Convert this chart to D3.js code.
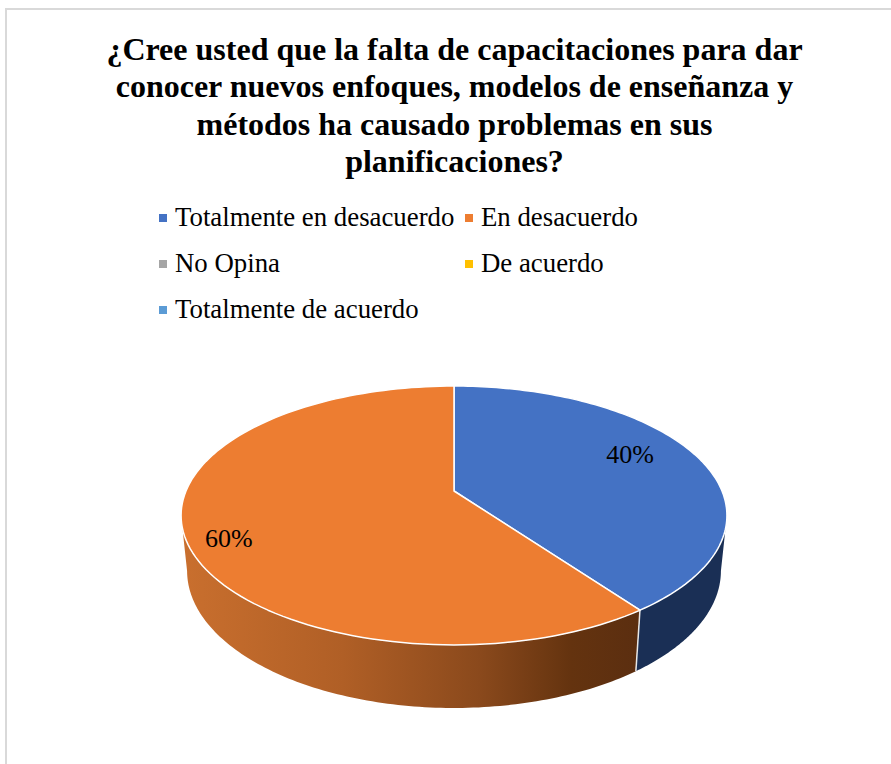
<!DOCTYPE html>
<html><head><meta charset="utf-8">
<script src="https://cdn.jsdelivr.net/npm/d3@7/dist/d3.min.js"></script>
<style>html,body{margin:0;padding:0;background:#fff}svg{display:block}text{font-family:"Liberation Serif","Times New Roman",serif;fill:#000}</style>
</head><body><svg id="c" width="891" height="764"></svg>
<script>
const titleLines = ["¿Cree usted que la falta de capacitaciones para dar","conocer nuevos enfoques, modelos de enseñanza y","métodos ha causado problemas en sus","planificaciones?"];
const categories = ["Totalmente en desacuerdo","En desacuerdo","No Opina","De acuerdo","Totalmente de acuerdo"];
const values = [40,60,0,0,0];
const colors = ["#4472c4","#ed7d31","#a5a5a5","#ffc000","#5b9bd5"];

const svg = d3.select("#c");
// chart frame
svg.append("path").attr("d","M6,764V9H891").attr("fill","none").attr("stroke","#d9d9d9").attr("stroke-width",2);

// title
svg.append("g").selectAll("text").data(titleLines).join("text")
  .attr("x",454.5).attr("y",(d,i)=>60+i*37.4).attr("text-anchor","middle")
  .attr("font-size",32).attr("font-weight","bold").text(d=>d);

// legend
const legendX = d3.scaleOrdinal().domain([0,1]).range([159,465]);
const legendY = d3.scalePoint().domain([0,1,2]).range([218,310]);
const lg = svg.append("g").selectAll("g").data(categories).join("g")
  .attr("transform",(d,i)=>`translate(${legendX(i%2)},${legendY(Math.floor(i/2))})`);
lg.append("rect").attr("x",0).attr("y",-4).attr("width",8).attr("height",8).attr("fill",(d,i)=>colors[i]);
lg.append("text").attr("x",16).attr("y",8).attr("font-size",26.8).text(d=>d);

// 3D pie: d3.pie angles projected through a perspective disc
const pie = d3.pie().sort(null).value(d=>d)(values);
const R=268, cx=454, cy=491, kk=32, p=-0.189;
function topPt(a,r=1){const u=Math.sin(a)*r,v=-Math.cos(a)*r,w=1+p*v;return [cx+R*u/w,(cy+kk*v)/w];}
function bottomPt(a){const [x,y]=topPt(a);return [cx+(x-cx)*0.978,y+61+(y-610)*0.06];}
const line = d3.line();
const arcPts=(f,a0,a1)=>d3.range(0,121).map(i=>f(a0+(a1-a0)*i/120));
const rad=d3.scaleLinear().domain([0,360]).range([0,2*Math.PI]);

const defs=svg.append("defs");
const grad=defs.append("linearGradient").attr("id","og").attr("gradientUnits","userSpaceOnUse")
  .attr("x1",183).attr("x2",640).attr("y1",0).attr("y2",0);
[[0,"#c96f2e"],[0.35,"#b05f26"],[0.65,"#8a491c"],[0.85,"#64330f"],[1,"#5b2e10"]].forEach(s=>grad.append("stop").attr("offset",s[0]).attr("stop-color",s[1]));

const [s0,s1]=pie;
const wallFill=["#1a2f55","url(#og)"];
const wallRange=[[rad(101),s0.endAngle],[s1.startAngle,rad(259)]];
wallRange.forEach((rg,i)=>{
  const pts=[...arcPts(topPt,rg[0],rg[1]),...arcPts(bottomPt,rg[1],rg[0])];
  svg.append("path").attr("d",line(pts)+"Z").attr("fill",wallFill[i]);
});
// seam between visible walls
svg.append("path").attr("d",line([topPt(s0.endAngle),bottomPt(s0.endAngle)]))
  .attr("stroke","#e8e8e8").attr("stroke-width",1.5).attr("fill","none");

// top faces
pie.filter(d=>d.value>0).forEach((d)=>{
  const pts=[topPt(0,0),...arcPts(topPt,d.startAngle,d.endAngle)];
  svg.append("path").attr("d",line(pts)+"Z").attr("fill",colors[d.index])
    .attr("stroke","#fff").attr("stroke-width",1.5).attr("stroke-linejoin","round");
});

// data labels
const labelShift=[[0.72,-9],[0.84,14]];
pie.filter(d=>d.value>0).forEach((d,i)=>{
  const [x,y]=topPt((d.startAngle+d.endAngle)/2,labelShift[i][0]);
  svg.append("text").attr("x",x).attr("y",y+labelShift[i][1]+8).attr("text-anchor","middle")
    .attr("font-size",26).text(d3.format(".0%")(d.value/d3.sum(values)));
});
</script></body></html>
